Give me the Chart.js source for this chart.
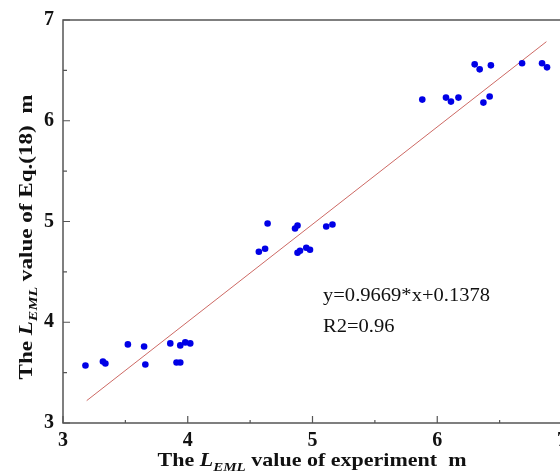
<!DOCTYPE html>
<html lang="en">
<head>
    <meta charset="UTF-8">
    <title>L_EML fit</title>
    <script src="https://cdn.jsdelivr.net/npm/chart.js@4.4.0/dist/chart.umd.min.js"></script>
    <style>
        html, body { margin: 0; padding: 0; background: #fff; overflow: hidden; }
        #wrap { width: 570px; height: 475px; position: relative; }
    </style>
</head>
<body>
    <div id="wrap"><canvas id="myChart"></canvas></div>
    <script>
        const expX = [3.18, 3.32, 3.34, 3.52, 3.65, 3.66, 3.86, 3.91, 3.94, 3.94, 3.98, 4.02,
                      4.57, 4.62, 4.64, 4.86, 4.88, 4.88, 4.90, 4.95, 4.98, 5.11, 5.16,
                      5.88, 6.07, 6.11, 6.17, 6.30, 6.34, 6.37, 6.42, 6.43, 6.68, 6.84, 6.88];
        const eqY  = [3.57, 3.61, 3.59, 3.78, 3.76, 3.58, 3.79, 3.60, 3.60, 3.77, 3.80, 3.79,
                      4.70, 4.73, 4.98, 4.93, 4.96, 4.69, 4.71, 4.74, 4.72, 4.95, 4.97,
                      6.21, 6.23, 6.19, 6.23, 6.56, 6.51, 6.18, 6.24, 6.55, 6.57, 6.57, 6.53];
        // ends of the fitted line
        const fitX = [3.19, 6.875];
        const fitY = [3.222, 6.785];
        const tickValues = [3, 4, 5, 6, 7];
        const minorValues = [3.5, 4.5, 5.5, 6.5];
        const fitText = ['y=0.9669*x+0.1378', 'R2=0.96'];

        const serif = "'Liberation Serif', 'DejaVu Serif', serif";
        const axisColor = '#555';

        // draws a run of text pieces (normal / italic / subscript) centred on cx,
        // stretched sideways to the given width (the original font is wider)
        function drawParts(ctx, parts, cx, cy, width) {
            let total = 0;
            parts.forEach(p => { ctx.font = p.font; total += ctx.measureText(p.text).width; });
            ctx.save();
            ctx.translate(cx - width / 2, cy);
            ctx.scale(width / total, 1);
            ctx.textAlign = 'left';
            ctx.textBaseline = 'alphabetic';
            let x = 0;
            parts.forEach(p => {
                ctx.font = p.font;
                ctx.fillText(p.text, x, p.dy || 0);
                x += ctx.measureText(p.text).width;
            });
            ctx.restore();
        }

        function titleParts(tail) {
            return [
                { text: 'The ', font: 'bold 19px ' + serif },
                { text: 'L', font: 'italic bold 19px ' + serif },
                { text: 'EML', font: 'italic bold 13px ' + serif, dy: 5 },
                { text: tail, font: 'bold 19px ' + serif }
            ];
        }

        const framePlugin = {
            id: 'frame',
            afterDraw(chart) {
                const ctx = chart.ctx;
                const a = chart.chartArea;
                const xs = chart.scales.x, ys = chart.scales.y;
                ctx.save();
                ctx.strokeStyle = axisColor;
                ctx.lineWidth = 1.5;
                ctx.strokeRect(a.left, a.top, a.right - a.left, a.bottom - a.top);
                // inward ticks
                ctx.lineWidth = 1.2;
                ctx.beginPath();
                tickValues.forEach(v => {
                    const px = xs.getPixelForValue(v), py = ys.getPixelForValue(v);
                    ctx.moveTo(px, a.bottom); ctx.lineTo(px, a.bottom - 7);
                    ctx.moveTo(a.left, py); ctx.lineTo(a.left + 7, py);
                });
                minorValues.forEach(v => {
                    const px = xs.getPixelForValue(v), py = ys.getPixelForValue(v);
                    ctx.moveTo(px, a.bottom); ctx.lineTo(px, a.bottom - 3);
                    ctx.moveTo(a.left, py); ctx.lineTo(a.left + 4, py);
                });
                ctx.stroke();

                ctx.fillStyle = '#111';
                // x title
                drawParts(ctx, titleParts(' value of experiment  m'), 312, 466, 309);
                // y title
                ctx.translate(32, 237);
                ctx.rotate(-Math.PI / 2);
                drawParts(ctx, titleParts(' value of Eq.(18)  m'), 0, 0, 285);
                ctx.restore();

                // fit equation
                ctx.save();
                ctx.fillStyle = '#111';
                ctx.font = '19px ' + serif;
                const w = ctx.measureText(fitText[0]).width;
                ctx.translate(323, 0);
                ctx.scale(167 / w, 1);
                ctx.textAlign = 'left';
                ctx.textBaseline = 'alphabetic';
                ctx.fillText(fitText[0], 0, 301);
                ctx.fillText(fitText[1], 0, 332);
                ctx.restore();
            }
        };

        const tickFont = { family: serif, size: 20, weight: 'bold' };

        const ctx = document.getElementById('myChart').getContext('2d');
        const myChart = new Chart(ctx, {
            type: 'scatter',
            data: {
                datasets: [{
                    label: 'points',
                    data: expX.map((x, i) => ({ x: x, y: eqY[i] })),
                    backgroundColor: 'rgb(0, 0, 230)',
                    borderColor: 'rgb(0, 0, 230)',
                    pointRadius: 3.3,
                    borderWidth: 0
                }, {
                    label: 'fit',
                    type: 'line',
                    data: fitX.map((x, i) => ({ x: x, y: fitY[i] })),
                    borderColor: 'rgb(205, 105, 100)',
                    borderWidth: 1,
                    pointRadius: 0,
                    fill: false
                }]
            },
            options: {
                responsive: true,
                maintainAspectRatio: false,
                animation: false,
                layout: { padding: { top: 20, right: 8, left: 0, bottom: 0 } },
                plugins: {
                    legend: { display: false },
                    tooltip: { enabled: false }
                },
                scales: {
                    x: {
                        type: 'linear',
                        min: 3,
                        max: 7,
                        grid: { display: false, drawTicks: false },
                        border: { display: false },
                        ticks: {
                            stepSize: 1,
                            font: tickFont,
                            color: '#111',
                            padding: 6
                        },
                        afterFit(scale) {
                            scale.height = 52;
                            scale.paddingLeft = 0;
                            scale.paddingRight = 0;
                        }
                    },
                    y: {
                        type: 'linear',
                        min: 3,
                        max: 7,
                        grid: { display: false, drawTicks: false },
                        border: { display: false },
                        ticks: {
                            stepSize: 1,
                            font: tickFont,
                            color: '#111',
                            padding: 9
                        },
                        afterFit(scale) {
                            scale.width = 63;
                            scale.paddingTop = 0;
                            scale.paddingBottom = 0;
                        }
                    }
                }
            },
            plugins: [framePlugin]
        });
    </script>
</body>
</html>
